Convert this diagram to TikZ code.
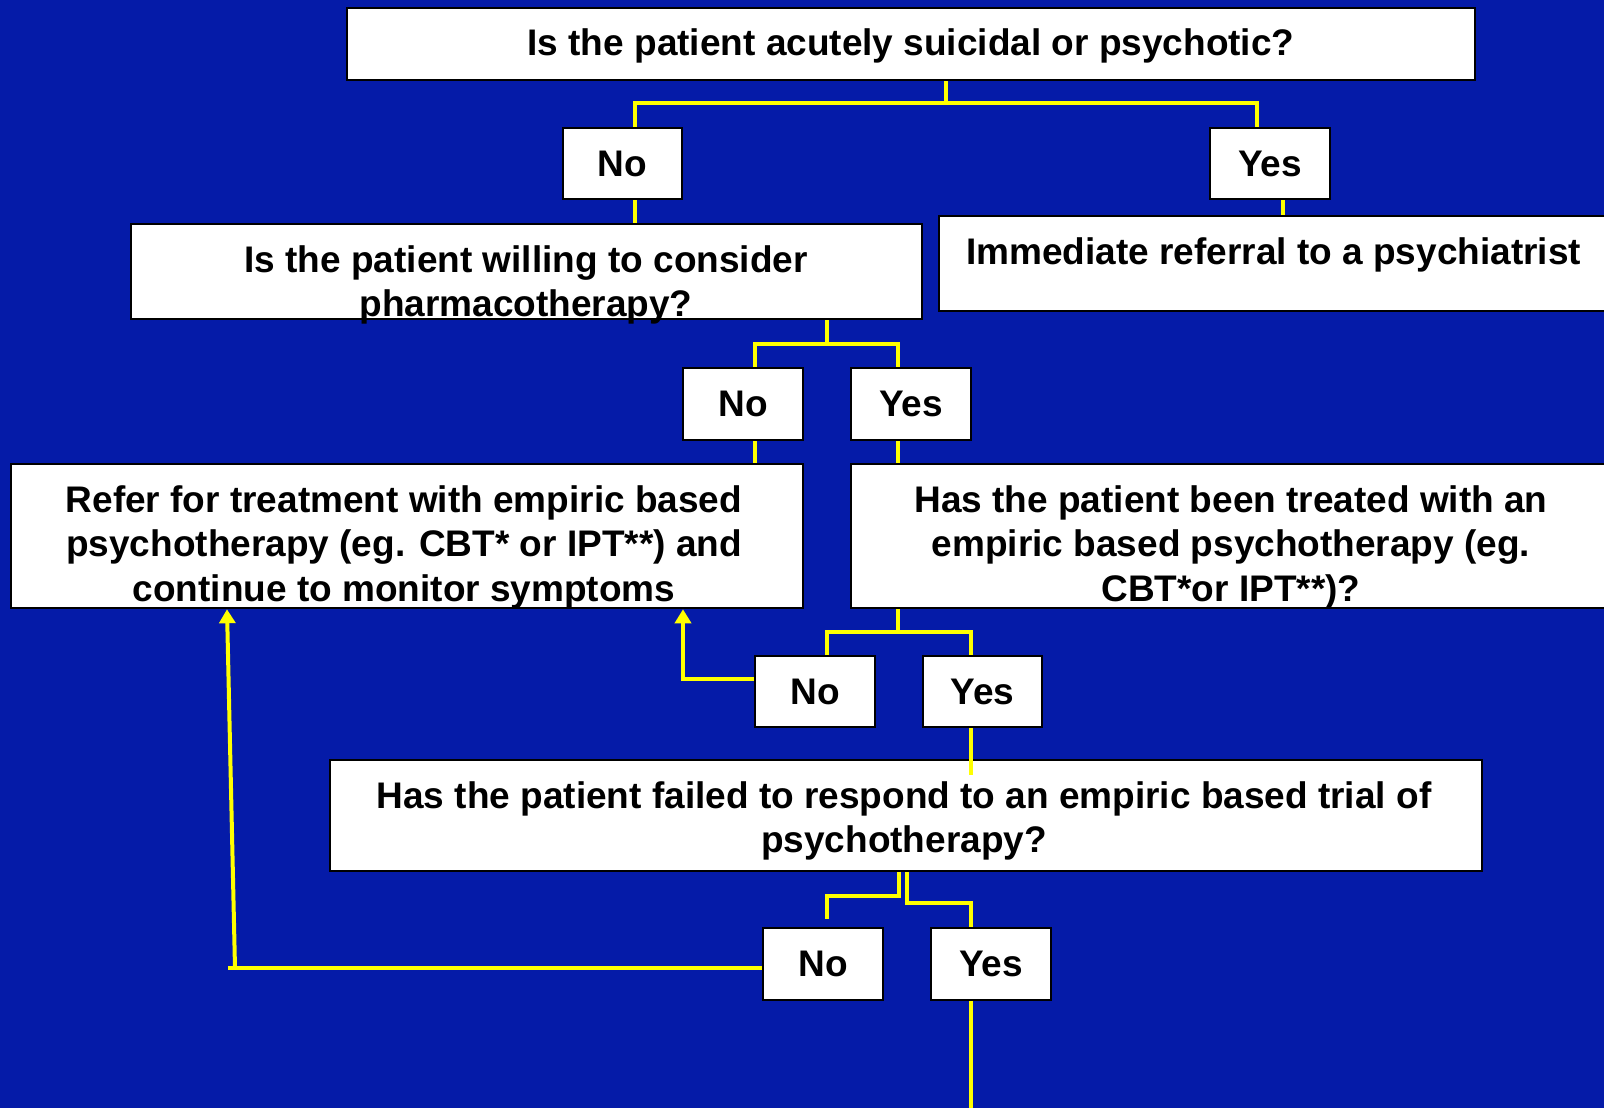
\documentclass[tikz,border=0pt]{standalone}
\usepackage{fontspec}
\setmainfont{Liberation Sans}
\usetikzlibrary{arrows.meta}
\definecolor{bgblue}{RGB}{5,27,168}
\definecolor{lineyellow}{RGB}{255,255,0}
\tikzset{
  box/.style={draw=black, line width=2.5pt, fill=white, rectangle, inner sep=0pt,
              font=\fontsize{37pt}{44pt}\selectfont\bfseries},
  txt/.style={inner sep=0pt, anchor=base, font=\fontsize{37pt}{44pt}\selectfont\bfseries},
  conn/.style={draw=lineyellow, line width=4pt},
  arr/.style={conn, -{Triangle[width=16pt,length=14pt]}}
}
\begin{document}
\begin{tikzpicture}[x=1pt,y=-1pt]
\useasboundingbox (0,0) rectangle (1604,1108);
\clip (0,0) rectangle (1604,1108);
\fill[bgblue] (0,0) rectangle (1604,1108);

% boxes
\node[box, minimum width=1128pt, minimum height=72pt] (top) at (911,44) {};
\node[box, minimum width=119pt, minimum height=71pt] (no1) at (622.5,163.5) {No};
\node[box, minimum width=120pt, minimum height=71pt] (yes1) at (1270,163.5) {Yes};
\node[box, minimum width=791pt, minimum height=95pt] (q2) at (526.5,271.5) {};
\node[box, minimum width=711pt, minimum height=95pt] (imm) at (1294.5,263.5) {};
\node[box, minimum width=120pt, minimum height=72pt] (no2) at (743,404) {No};
\node[box, minimum width=120pt, minimum height=72pt] (yes2) at (911,404) {Yes};
\node[box, minimum width=792pt, minimum height=144pt] (refer) at (407,536) {};
\node[box, minimum width=799pt, minimum height=144pt] (has) at (1250.5,536) {};
\node[box, minimum width=120pt, minimum height=71pt] (no3) at (815,691.5) {No};
\node[box, minimum width=119pt, minimum height=71pt] (yes3) at (982.5,691.5) {Yes};
\node[box, minimum width=1152pt, minimum height=111pt] (fail) at (906,815.5) {};
\node[box, minimum width=120pt, minimum height=72pt] (no4) at (823,964) {No};
\node[box, minimum width=120pt, minimum height=72pt] (yes4) at (991,964) {Yes};

% texts
\node[txt] (topt) at (911,56) {Is the patient acutely suicidal or psychotic?};
\node[txt] (q2a) at (526,272) {Is the patient willing to consider};
\node[txt] (q2b) at (526,316) {pharmacotherapy?};
\node[txt, anchor=base west] (immt) at (966,264) {Immediate referral to a psychiatrist};
\node[txt] (refa) at (404,512.5) {Refer for treatment with empiric based};
\node[txt] (refb) at (404,556.5) {psychotherapy (eg. CBT* or IPT**) and};
\node[txt] (refc) at (404,601) {continue to monitor symptoms};
\node[txt] (hasa) at (1231,512.5) {Has the patient been treated with an};
\node[txt] (hasb) at (1231,556.5) {empiric based psychotherapy (eg.};
\node[txt] (hasc) at (1231,601) {CBT*or IPT**)?};
\node[txt] (faila) at (904,808) {Has the patient failed to respond to an empiric based trial of};
\node[txt] (failb) at (904,852) {psychotherapy?};

% connector coordinates
\coordinate (b1) at (946,103);
\coordinate (b1l) at (635,103);
\coordinate (b1r) at (1257,103);
\coordinate (c1) at (1283,0);
\coordinate (b2) at (827,344);
\coordinate (b2l) at (755,344);
\coordinate (b2r) at (898,344);
\coordinate (b3) at (898,632);
\coordinate (b3l) at (827,632);
\coordinate (b3r) at (971,632);
\coordinate (a3) at (683,679);
\coordinate (y3end) at (971,775);
\coordinate (b4a) at (899,896);
\coordinate (b4l) at (827,896);
\coordinate (n4end) at (827,919);
\coordinate (b4b) at (907,903);
\coordinate (b4r) at (971,903);
\coordinate (a4) at (235,968);
\coordinate (a4l) at (228,968);
\coordinate (a4top) at (227,0);
\coordinate (bottom) at (971,1112);

% connectors
\draw[conn] (b1 |- top.south) -- (b1);
\draw[conn] (b1l |- no1.north) -- (b1l) -- (b1r) -- (b1r |- yes1.north);
\draw[conn] (b1l |- no1.south) -- (b1l |- q2.north);
\draw[conn] (c1 |- yes1.south) -- (c1 |- imm.north);
\draw[conn] (b2 |- q2.south) -- (b2);
\draw[conn] (b2l |- no2.north) -- (b2l) -- (b2r) -- (b2r |- yes2.north);
\draw[conn] (b2l |- no2.south) -- (b2l |- refer.north);
\draw[conn] (b2r |- yes2.south) -- (b2r |- has.north);
\draw[conn] (b3 |- has.south) -- (b3);
\draw[conn] (b3l |- no3.north) -- (b3l) -- (b3r) -- (b3r |- yes3.north);
\draw[arr] (no3.west |- a3) -- (a3) -- (a3 |- refer.south);
\draw[conn] (b4a |- fail.south) -- (b4a) -- (b4l) -- (n4end);
\draw[conn] (b4b |- fail.south) -- (b4b) -- (b4r) -- (b4r |- no4.north);
\draw[conn] (no4.west |- a4) -- (a4l);
\draw[arr] (a4) -- (a4top |- refer.south);
\draw[conn] (b3r |- yes3.south) -- (y3end);
\draw[conn] (bottom |- yes4.south) -- (bottom);
\end{tikzpicture}
\end{document}
